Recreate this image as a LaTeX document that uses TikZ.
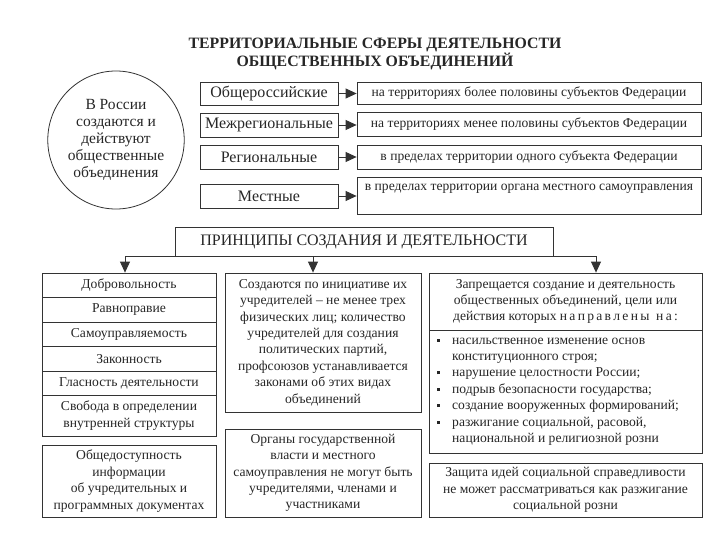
\documentclass[tikz,border=0pt]{standalone}
\usepackage{fontspec}
\setmainfont{Liberation Serif}
\usetikzlibrary{arrows.meta,shapes.geometric}
\newcommand{\bodyf}{\fontsize{13.6}{16.4}\selectfont}
\newcommand{\bigf}{\fontsize{16}{17}\selectfont}
\newcommand{\sqb}{\makebox[15pt][l]{\raisebox{2.5pt}{\rule{3pt}{3pt}}}}
\newcommand{\ind}{\hspace*{15pt}}
\begin{document}
\begin{tikzpicture}[x=1pt,y=-1pt,
  every node/.style={text=black!85},
  box/.style={draw=black!80, line width=0.8pt, inner sep=0pt, rectangle, align=center, font=\bodyf},
  lbox/.style={box, minimum width=138, font=\bigf},
  rbox/.style={box, minimum width=344, font=\bodyf},
  arr/.style={draw=black!80, line width=0.8pt, -{Triangle[length=11pt,width=10pt]}},
  txt/.style={inner sep=0pt, align=center, font=\bodyf}
]
\useasboundingbox (0,0) rectangle (720,540);

% title
\node[inner sep=0pt, align=center, font=\bfseries\fontsize{15.8}{18}\selectfont] (title) at (375,54)
  {ТЕРРИТОРИАЛЬНЫЕ СФЕРЫ ДЕЯТЕЛЬНОСТИ\\ОБЩЕСТВЕННЫХ ОБЪЕДИНЕНИЙ};

% ellipse
\node[draw=black!80, line width=0.8pt, ellipse, minimum width=131, minimum height=138, inner sep=0pt,
  align=center, font=\fontsize{15.5}{16.8}\selectfont] (el) at (116,140)
  {В России\\создаются и\\действуют\\общественные\\объединения};

% left boxes
\node[lbox, minimum height=23] (l1) at (269,93.5) {Общероссийские};
\node[lbox, minimum height=24] (l2) at (269,125) {Межрегиональные};
\node[lbox, minimum height=24] (l3) at (269,157) {Региональные};
\node[lbox, minimum height=24] (l4) at (269,196) {Местные};

% right boxes
\node[rbox, minimum height=22] (r1) at (529,93) {на территориях более половины субъектов Федерации};
\node[rbox, minimum height=24] (r2) at (529,124) {на территориях менее половины субъектов Федерации};
\node[rbox, minimum height=24] (r3) at (529,157) {в пределах территории одного субъекта Федерации};
\node[rbox, minimum height=37] (r4) at (529,195.5) {};
\node[txt] (r4t) at (529,189) {в пределах территории органа местного самоуправления};

\foreach \i in {1,...,4}{
  \draw[arr] (l\i.east) -- (l\i.east -| r\i.west);
}

% principles
\node[box, minimum width=378, minimum height=29, font=\bigf] (pr) at (364,241.5)
  {ПРИНЦИПЫ СОЗДАНИЯ И ДЕЯТЕЛЬНОСТИ};
\coordinate (hl) at (125,256);
\coordinate (hm) at (313,256);
\coordinate (hr) at (596,256);
\draw[draw=black!80, line width=0.8pt] (hl) -- (hr);

% column 1
\node[box, minimum width=174, minimum height=24.5] (c1a) at (129,285.25) {Добровольность};
\node[box, minimum width=174, minimum height=24.5] (c1b) at (129,309.75) {Равноправие};
\node[box, minimum width=174, minimum height=24.5] (c1c) at (129,334.25) {Самоуправляемость};
\node[box, minimum width=174, minimum height=24.5] (c1d) at (129,358.75) {Законность};
\node[box, minimum width=174, minimum height=24] (c1e) at (129,383) {Гласность деятельности};
\node[box, minimum width=174, minimum height=41] (c1f) at (129,415.5) {Свобода в определении\\внутренней структуры};
\node[box, minimum width=174, minimum height=72] (c1g) at (129,481)
  {Общедоступность\\информации\\об учредительных и\\программных документах};

% column 2
\node[box, minimum width=196, minimum height=139] (c2a) at (323,342.5)
  {Создаются по инициативе их\\учредителей -- не менее трех\\физических лиц; количество\\учредителей для создания\\политических партий,\\профсоюзов устанавливается\\законами об этих видах\\объединений};
\node[box, minimum width=196, minimum height=88] (c2b) at (323,473)
  {Органы государственной\\власти и местного\\самоуправления не могут быть\\учредителями, членами и\\участниками};

% column 3
\node[box, minimum width=273, minimum height=57] (c3a) at (565.5,301.5)
  {Запрещается создание и деятельность\\общественных объединений, цели или\\действия которых н\,а\,п\,р\,а\,в\,л\,е\,н\,ы\ \ н\,а\,:};
\node[box, minimum width=273, minimum height=123] (c3b) at (565.5,391.5) {};
\node[txt, align=left, anchor=west] (c3t) at (437,391.5)
  {\sqb насильственное изменение основ\\
   \ind конституционного строя;\\
   \sqb нарушение целостности России;\\
   \sqb подрыв безопасности государства;\\
   \sqb создание вооруженных формирований;\\
   \sqb разжигание социальной, расовой,\\
   \ind национальной и религиозной розни};
\node[box, minimum width=273, minimum height=54] (c3c) at (565.5,490)
  {Защита идей социальной справедливости\\не может рассматриваться как разжигание\\социальной розни};

\draw[arr] (hl) -- (hl |- c1a.north);
\draw[arr] (hm) -- (hm |- c2a.north);
\draw[arr] (hr) -- (hr |- c3a.north);
\end{tikzpicture}
\end{document}
